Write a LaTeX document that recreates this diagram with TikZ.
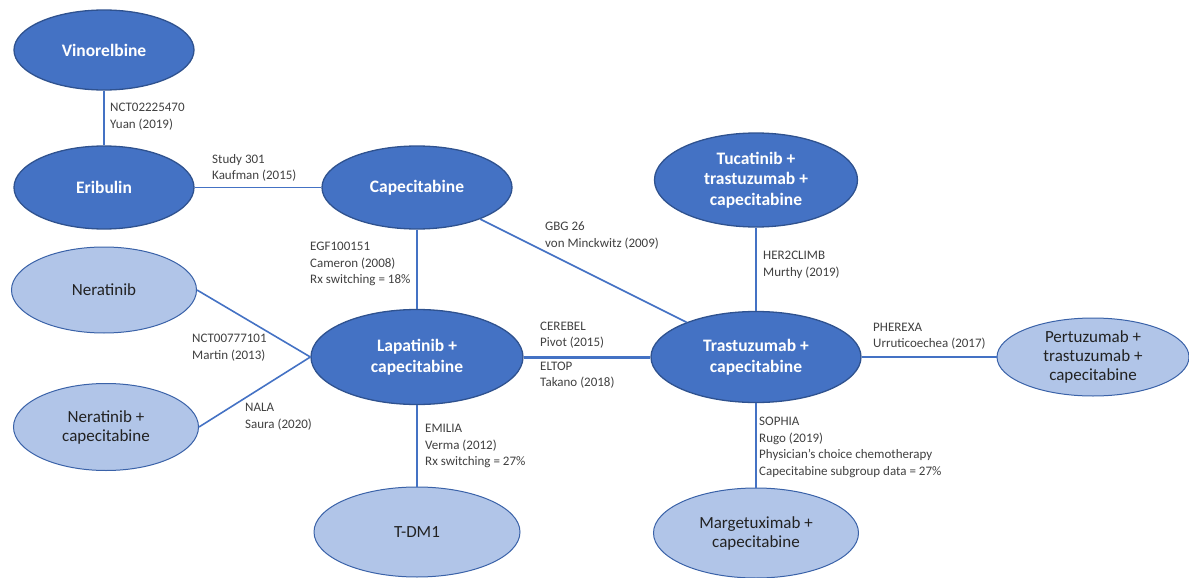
\documentclass[tikz,border=0pt]{standalone}
\usepackage{fontspec}
\setmainfont{Carlito}
\usetikzlibrary{shapes.geometric}
\definecolor{darkfill}{HTML}{4472C4}
\definecolor{darkedge}{HTML}{2F528F}
\definecolor{lightfill}{HTML}{B1C5E8}
\definecolor{lightedge}{HTML}{3A62A8}
\definecolor{linkcol}{HTML}{4472C4}
\definecolor{labelcol}{HTML}{404040}
\definecolor{lighttext}{HTML}{222222}
\tikzset{
  darknode/.style={ellipse, draw=darkedge, line width=1.3pt, fill=darkfill, text=white,
    inner sep=0pt, align=center, font=\fontsize{17.5}{20.5}\selectfont\bfseries},
  lightnode/.style={ellipse, draw=lightedge, line width=1pt, fill=lightfill, text=lighttext,
    inner sep=0pt, align=center, font=\fontsize{17}{19}\selectfont},
  lbl/.style={anchor=west, inner sep=0pt, align=left, text=labelcol,
    font=\fontsize{13}{16.5}\selectfont},
  link/.style={draw=linkcol, line width=1.6pt},
  thicklink/.style={draw=linkcol, line width=3pt}
}
\begin{document}
\begin{tikzpicture}[x=1pt,y=-1pt]
\useasboundingbox (0,0) rectangle (1189,578);
% nodes
\node[darknode, minimum width=180, minimum height=80] (vin) at (104,50) {Vinorelbine};
\node[darknode, minimum width=180, minimum height=83] (eri) at (104,187.5) {Eribulin};
\node[darknode, minimum width=190, minimum height=83] (cap) at (417,187.5) {Capecitabine};
\node[darknode, minimum width=203, minimum height=94] (tuc) at (756,180) {Tucatinib +\\trastuzumab +\\capecitabine};
\node[darknode, minimum width=210, minimum height=91] (tra) at (756,357) {Trastuzumab +\\capecitabine};
\node[darknode, minimum width=212, minimum height=95] (lap) at (417,357) {Lapatinib +\\capecitabine};
\node[lightnode, minimum width=185, minimum height=86] (ner) at (104,290) {Neratinib};
\node[lightnode, minimum width=185, minimum height=87] (nerc) at (106,427) {Neratinib +\\capecitabine};
\node[lightnode, minimum width=206, minimum height=90] (tdm) at (417,532) {T-DM1};
\node[lightnode, minimum width=205, minimum height=90] (mar) at (756,533) {Margetuximab +\\capecitabine};
\node[lightnode, minimum width=192, minimum height=78] (per) at (1093,357) {Pertuzumab +\\trastuzumab +\\capecitabine};
% connectors
\path[link] (vin) -- (eri);
\path[link] (eri.east) -- (cap.west);
\path[link] (cap) -- (lap);
\path[link] (cap) -- (tra);
\path[link] (tuc) -- (tra);
\path[thicklink] (lap.east) -- (tra.west);
\path[link] (tra.east) -- (per.west);
\path[link] (ner.east) -- (lap.west);
\path[link] (nerc.east) -- (lap.west);
\path[link] (lap) -- (tdm);
\path[link] (tra) -- (mar);
% labels
\node[lbl] (l1) at (110,116.5) {NCT02225470\\Yuan (2019)};
\node[lbl] (l2) at (212,168) {Study 301\\Kaufman (2015)};
\node[lbl] (l3) at (310,264) {EGF100151\\Cameron (2008)\\Rx switching = 18\%};
\node[lbl] (l4) at (545,235.5) {GBG 26\\von Minckwitz (2009)};
\node[lbl] (l5) at (540,335) {CEREBEL\\Pivot (2015)};
\node[lbl] (l6) at (540,375) {ELTOP\\Takano (2018)};
\node[lbl] (l7) at (192,347.5) {NCT00777101\\Martin (2013)};
\node[lbl] (l8) at (245,416.5) {NALA\\Saura (2020)};
\node[lbl] (l9) at (425,446) {EMILIA\\Verma (2012)\\Rx switching = 27\%};
\node[lbl] (l10) at (759,447.5) {SOPHIA\\Rugo (2019)\\Physician’s choice chemotherapy\\Capecitabine subgroup data = 27\%};
\node[lbl] (l11) at (763,265) {HER2CLIMB\\Murthy (2019)};
\node[lbl] (l12) at (873,336) {PHEREXA\\Urruticoechea (2017)};
\end{tikzpicture}
\end{document}
